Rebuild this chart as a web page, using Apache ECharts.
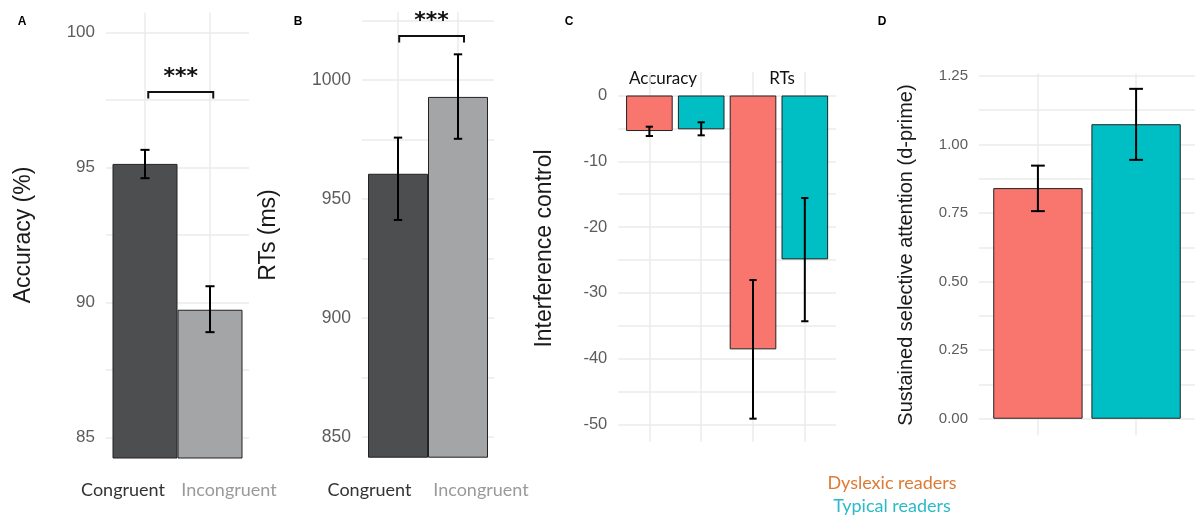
<!DOCTYPE html>
<html>
<head>
<meta charset="utf-8">
<script src="https://cdn.jsdelivr.net/npm/echarts@6/dist/echarts.min.js"></script>
<style>
  html, body { margin: 0; padding: 0; background: #fff; }
  #chart { width: 1195px; height: 517px; }
</style>
</head>
<body>
<div id="chart"></div>
<script>
// A + B: congruent vs incongruent trials
var conditions = ['Congruent', 'Incongruent'];
var accMean = [95.14, 89.74];
var accLow = [94.61, 88.91];
var accHigh = [95.66, 90.61];
var accTicks = [85, 90, 95, 100];
var accSig = [1.05, 2.05, 97.8, '***'];

var rtMean = [960.6, 992.9];
var rtLow = [941.2, 975.3];
var rtHigh = [975.8, 1010.8];
var rtTicks = [850, 900, 950, 1000];
var rtSig = [1.02, 2.1, 1018.5, '***'];

// C: interference control, per measure
var measures = ['Accuracy', 'RTs'];
var groups = ['Dyslexic readers', 'Typical readers'];
var dysInterf = [-5.4, -38.57];
var dysInterfLow = [-6.15, -49.1];
var dysInterfHigh = [-4.74, -28.04];
var typInterf = [-5.14, -24.9];
var typInterfLow = [-6.05, -34.3];
var typInterfHigh = [-4.07, -15.58];
var interfTicks = [-50, -40, -30, -20, -10, 0];

// D: sustained selective attention
var dprimeMean = [0.841, 1.074];
var dprimeLow = [0.757, 0.944];
var dprimeHigh = [0.923, 1.203];
var dprimeTicks = [0, 0.25, 0.5, 0.75, 1, 1.25];

var condColors = ['#4d4e50', '#a4a5a7'];
var groupColors = ['#F8766D', '#00BFC4'];
var gridColor = '#ebebeb';

// major + minor gridline values inside [min, max]
function gridValues(ticks, min, max) {
  var step = (ticks[1] - ticks[0]) / 2;
  var out = [];
  for (var v = ticks[0] - step; v <= ticks[ticks.length - 1] + step + 1e-9; v += step) {
    if (v >= min && v <= max) out.push(+v.toFixed(5));
  }
  return out;
}

function yAxisFor(idx, min, max, ticks, size, fmt) {
  return {
    type: 'value', gridIndex: idx, min: min, max: max,
    axisLine: { show: false },
    axisTick: { show: false, customValues: gridValues(ticks, min, max) },
    axisLabel: {
      customValues: ticks, margin: 11, color: '#5c5c5c',
      fontSize: size, fontFamily: 'Liberation Sans', formatter: fmt
    },
    splitLine: { show: true, lineStyle: { color: gridColor, width: 1.5 } }
  };
}

function xAxisFor(idx, n) {
  var pos = [];
  for (var i = 1; i <= n; i++) pos.push(i);
  return {
    type: 'value', gridIndex: idx, min: 0.4, max: n + 0.6,
    axisLine: { show: false },
    axisLabel: { show: false },
    axisTick: { show: false, customValues: pos },
    splitLine: { show: true, lineStyle: { color: gridColor, width: 1.5 } }
  };
}

function errorBar(params, api) {
  var x = api.value(0);
  var lo = api.coord([x, api.value(1)]);
  var hi = api.coord([x, api.value(2)]);
  var half = api.size([0.07, 0])[0];
  var st = { stroke: '#000', lineWidth: 2 };
  return {
    type: 'group',
    children: [
      { type: 'line', shape: { x1: lo[0], y1: lo[1], x2: hi[0], y2: hi[1] }, style: st },
      { type: 'line', shape: { x1: hi[0] - half, y1: hi[1], x2: hi[0] + half, y2: hi[1] }, style: st },
      { type: 'line', shape: { x1: lo[0] - half, y1: lo[1], x2: lo[0] + half, y2: lo[1] }, style: st }
    ]
  };
}

function bracket(params, api) {
  var a = api.coord([api.value(0), api.value(2)]);
  var b = api.coord([api.value(1), api.value(2)]);
  return {
    type: 'group',
    children: [
      {
        type: 'polyline',
        shape: { points: [[a[0], a[1] + 6.5], [a[0], a[1]], [b[0], b[1]], [b[0], b[1] + 6.5]] },
        style: { stroke: '#111', lineWidth: 2, fill: null }
      },
      {
        type: 'text', x: (a[0] + b[0]) / 2, y: a[1] - 15,
        style: {
          text: api.value(3), fill: '#111', font: 'bold 22px "DejaVu Sans"',
          align: 'center', verticalAlign: 'middle'
        }
      }
    ]
  };
}

function barSeries(idx, data, width) {
  return {
    type: 'bar', xAxisIndex: idx, yAxisIndex: idx, barWidth: width,
    itemStyle: { borderColor: '#222', borderWidth: 1 },
    data: data, z: 2
  };
}

function errSeries(idx, data) {
  return {
    type: 'custom', xAxisIndex: idx, yAxisIndex: idx, renderItem: errorBar,
    encode: { x: 0, y: [1, 2] }, data: data, z: 3
  };
}

function sigSeries(idx, sig) {
  return {
    type: 'custom', xAxisIndex: idx, yAxisIndex: idx, renderItem: bracket,
    encode: { x: [0, 1], y: 2 }, data: [sig], z: 3
  };
}

// bar + error data
var accBars = conditions.map(function (c, i) {
  return { name: c, value: [i + 1, accMean[i]], itemStyle: { color: condColors[i] } };
});
var accErr = conditions.map(function (c, i) { return [i + 1, accLow[i], accHigh[i]]; });
var rtBars = conditions.map(function (c, i) {
  return { name: c, value: [i + 1, rtMean[i]], itemStyle: { color: condColors[i] } };
});
var rtErr = conditions.map(function (c, i) { return [i + 1, rtLow[i], rtHigh[i]]; });

var interfBars = [];
var interfErr = [];
measures.forEach(function (m, mi) {
  var means = [dysInterf[mi], typInterf[mi]];
  var lows = [dysInterfLow[mi], typInterfLow[mi]];
  var highs = [dysInterfHigh[mi], typInterfHigh[mi]];
  groups.forEach(function (g, gi) {
    var x = mi * groups.length + gi + 1;
    interfBars.push({ name: m + ' - ' + g, value: [x, means[gi]], itemStyle: { color: groupColors[gi] } });
    interfErr.push([x, lows[gi], highs[gi]]);
  });
});

var dprimeBars = groups.map(function (g, i) {
  return { name: g, value: [i + 1, dprimeMean[i]], itemStyle: { color: groupColors[i] } };
});
var dprimeErr = groups.map(function (g, i) { return [i + 1, dprimeLow[i], dprimeHigh[i]]; });

function txt(x, y, text, font, color, rot) {
  return {
    type: 'text', x: x, y: y, rotation: rot || 0, silent: true,
    style: { text: text, font: font, fill: color, align: 'center', verticalAlign: 'middle' }
  };
}

var titleFont = '23px "Liberation Sans"';
var calFont = '18px Lato';

var chart = echarts.init(document.getElementById('chart'), null, { renderer: 'canvas' });

var option = {
  animation: false,
  backgroundColor: '#fff',
  grid: [
    { left: 106, top: 12.4, width: 143, height: 445.6 },
    { left: 362, top: 12.2, width: 132, height: 445 },
    { left: 618.3, top: 72, width: 217.6, height: 369.7 },
    { left: 979, top: 73.2, width: 220, height: 362 }
  ],
  xAxis: [xAxisFor(0, 2), xAxisFor(1, 2), xAxisFor(2, 4), xAxisFor(3, 2)],
  yAxis: [
    yAxisFor(0, 84.25, 100.75, accTicks, 17, function (v) { return String(v); }),
    yAxisFor(1, 841.5, 1028.5, rtTicks, 17.5, function (v) { return String(v); }),
    yAxisFor(2, -52.6, 3.57, interfTicks, 16.5, function (v) { return String(v); }),
    yAxisFor(3, -0.06, 1.26, dprimeTicks, 15, function (v) { return v.toFixed(2); })
  ],
  series: [
    barSeries(0, accBars, '100%'), errSeries(0, accErr), sigSeries(0, accSig),
    barSeries(1, rtBars, '100%'), errSeries(1, rtErr), sigSeries(1, rtSig),
    barSeries(2, interfBars, '90%'), errSeries(2, interfErr),
    barSeries(3, dprimeBars, '91%'), errSeries(3, dprimeErr)
  ],
  graphic: [
    txt(22, 22, 'A', 'bold 12px "Liberation Sans"', '#000'),
    txt(298, 22, 'B', 'bold 12px "Liberation Sans"', '#000'),
    txt(569, 22, 'C', 'bold 12px "Liberation Sans"', '#000'),
    txt(882, 22, 'D', 'bold 12px "Liberation Sans"', '#000'),
    txt(24, 235, 'Accuracy (%)', titleFont, '#1a1a1a', Math.PI / 2),
    txt(269, 235, 'RTs (ms)', titleFont, '#1a1a1a', Math.PI / 2),
    txt(545, 248.5, 'Interference control', titleFont, '#1a1a1a', Math.PI / 2),
    txt(906, 255, 'Sustained selective attention (d-prime)', '20px "Liberation Sans"', '#1a1a1a', Math.PI / 2),
    txt(123, 490, conditions[0], calFont, '#333'),
    txt(229, 490, conditions[1], calFont, '#9a9a9a'),
    txt(369.5, 490, conditions[0], calFont, '#333'),
    txt(481, 490, conditions[1], calFont, '#9a9a9a'),
    txt(663, 79, measures[0], '17px Lato', '#111'),
    txt(782, 79, measures[1], '17px Lato', '#111'),
    txt(892, 483, groups[0], calFont, '#DD7A35'),
    txt(892, 506, groups[1], calFont, '#2BBAC8')
  ]
};

chart.setOption(option);
</script>
</body>
</html>
